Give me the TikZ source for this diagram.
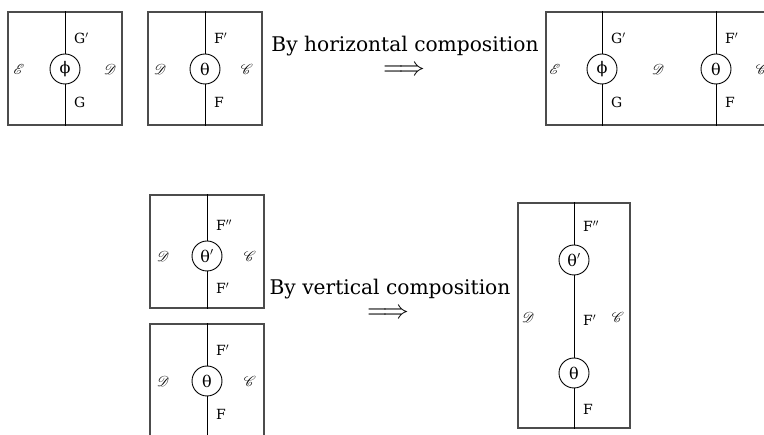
\documentclass[tikz,border=0pt]{standalone}
\usepackage{fontspec}
\setmainfont{DejaVu Serif}
\usepackage{mathrsfs}
\usepackage{graphicx}

\begin{document}
\begin{tikzpicture}[x=1pt,y=-1pt,
  frame/.style={draw=black!70, line width=1.2pt, inner sep=0pt, minimum width=114pt, minimum height=113pt},
  wire/.style={line width=0.9pt},
  cell/.style={circle, draw, line width=0.9pt, minimum size=30pt, inner sep=0pt, font=\fontsize{16}{16}\selectfont},
  lbl/.style={anchor=base west, inner sep=0pt, font=\fontsize{14}{14}\selectfont},
  cat/.style={inner sep=0pt, font=\fontsize{14}{14}\selectfont},
  caption/.style={anchor=base, inner sep=0pt, font=\fontsize{20.2}{20.2}\selectfont},
  implies/.style={inner sep=0pt}]
\useasboundingbox (0,0) rectangle (764,435);
\clip (0,0) rectangle (764,435);

% ---- phi : G => G' between E and D
\node[frame] (b1) at (65,68.5) {};
\node[cell] (phi1) at (65,69) {ϕ};
\draw[wire] (phi1 |- b1.north) -- (phi1) -- (phi1 |- b1.south);
\node[lbl] (g1p) at (74,44) {G$'$};
\node[lbl] (g1) at (74,108) {G};
\node[cat] (e1) at (19,69) {$\mathscr{E}$};
\node[cat] (d1) at (110,69) {$\mathscr{D}$};

% ---- theta : F => F' between D and C
\node[frame] (b2) at (205,68.5) {};
\node[cell] (th2) at (205,69) {θ};
\draw[wire] (th2 |- b2.north) -- (th2) -- (th2 |- b2.south);
\node[lbl] (f2p) at (214,44) {F$'$};
\node[lbl] (f2) at (214,108) {F};
\node[cat] (d2) at (160,69) {$\mathscr{D}$};
\node[cat] (c2) at (247,69) {$\mathscr{C}$};

% ---- horizontal composition
\node[caption] (hcap) at (405,52) {By horizontal composition};
\node[implies] (harr) at (404,71) {\scalebox{2.6}{$\Longrightarrow$}};

\node[frame, minimum width=227pt] (b3) at (659.5,68.5) {};
\node[cell] (phi3) at (602,69) {ϕ};
\node[cell] (th3) at (716,69) {θ};
\draw[wire] (phi3 |- b3.north) -- (phi3) -- (phi3 |- b3.south);
\draw[wire] (th3 |- b3.north) -- (th3) -- (th3 |- b3.south);
\node[lbl] (g3p) at (611,44) {G$'$};
\node[lbl] (g3) at (611,108) {G};
\node[lbl] (f3p) at (725,44) {F$'$};
\node[lbl] (f3) at (725,108) {F};
\node[cat] (e3) at (555,69) {$\mathscr{E}$};
\node[cat] (d3) at (658,69) {$\mathscr{D}$};
\node[cat] (c3) at (762,69) {$\mathscr{C}$};

% ---- theta' : F' => F''
\node[frame] (b4) at (207,251.5) {};
\node[cell] (th4) at (207,256) {θ$'$};
\draw[wire] (th4 |- b4.north) -- (th4) -- (th4 |- b4.south);
\node[lbl] (f4pp) at (216,231) {F$''$};
\node[lbl] (f4p) at (216,294) {F$'$};
\node[cat] (d4) at (163,256) {$\mathscr{D}$};
\node[cat] (c4) at (250,256) {$\mathscr{C}$};

% ---- theta : F => F'
\node[frame] (b5) at (207,380.5) {};
\node[cell] (th5) at (207,381) {θ};
\draw[wire] (th5 |- b5.north) -- (th5) -- (th5 |- b5.south);
\node[lbl] (f5p) at (216,356) {F$'$};
\node[lbl] (f5) at (216,420) {F};
\node[cat] (d5) at (163,381) {$\mathscr{D}$};
\node[cat] (c5) at (250,381) {$\mathscr{C}$};

% ---- vertical composition
\node[caption] (vcap) at (390,295) {By vertical composition};
\node[implies] (varr) at (388,314) {\scalebox{2.6}{$\Longrightarrow$}};

\node[frame, minimum width=112pt, minimum height=225pt] (b6) at (574,315.5) {};
\node[cell] (th6p) at (574,260) {θ$'$};
\node[cell] (th6) at (574,373) {θ};
\draw[wire] (th6p |- b6.north) -- (th6p) -- (th6) -- (th6 |- b6.south);
\node[lbl] (f6pp) at (583,232) {F$''$};
\node[lbl] (f6p) at (583,326) {F$'$};
\node[lbl] (f6) at (583,415) {F};
\node[cat] (d6) at (528,317) {$\mathscr{D}$};
\node[cat] (c6) at (618,317) {$\mathscr{C}$};
\end{tikzpicture}
\end{document}
